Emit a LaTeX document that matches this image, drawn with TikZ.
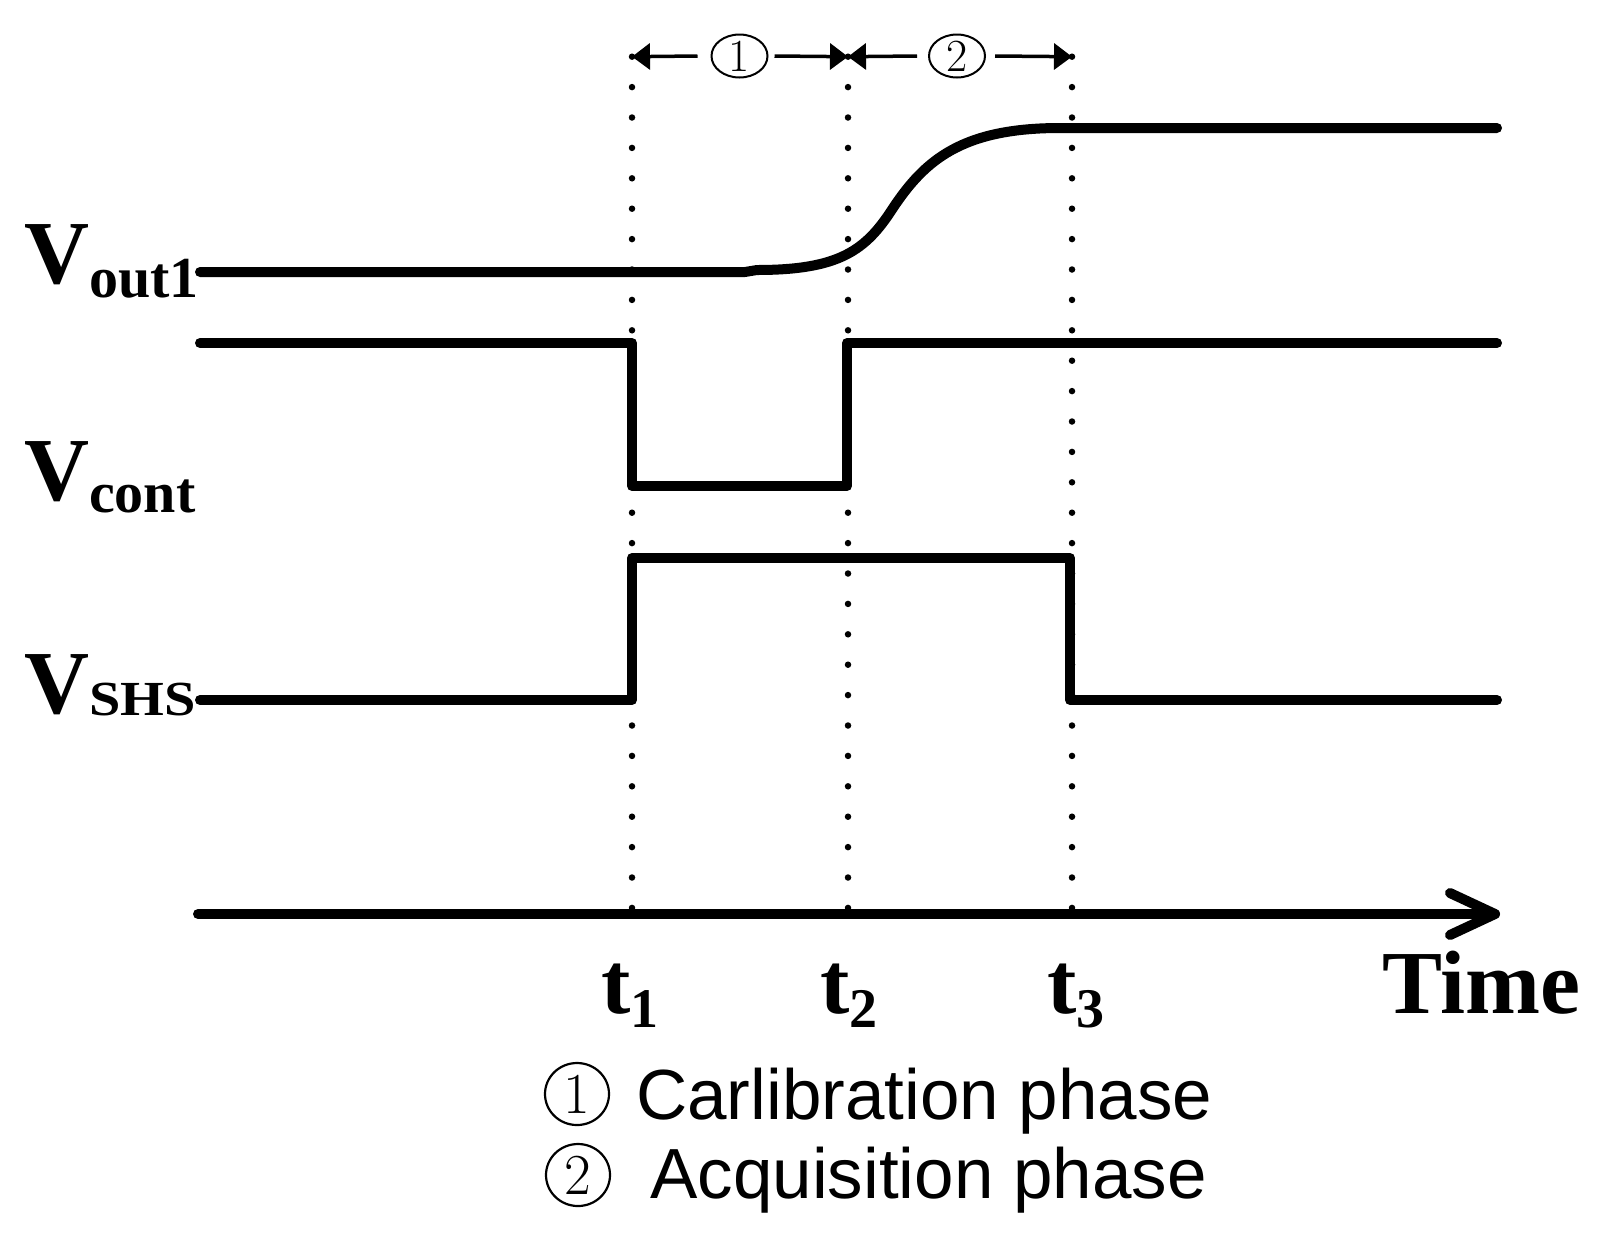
\documentclass[tikz,border=0pt]{standalone}
\usepackage{fontspec}
\usepackage{graphicx}
\setmainfont{Liberation Serif}
\newfontfamily\sansf{Liberation Sans}
\newfontfamily\lmf{Latin Modern Roman}
\usetikzlibrary{arrows.meta,shapes.geometric}
\newcommand\mysub[3][-13pt]{\raisebox{#1}{\fontsize{#2}{#2}\selectfont #3}}
\begin{document}
\begin{tikzpicture}[x=1pt,y=-1pt,
  sig/.style={line width=10pt,line join=round,line cap=round},
  dotline/.style={line width=6.5pt,line cap=round,dash pattern=on 0pt off 30.4pt},
  bigtxt/.style={inner sep=0pt,anchor=base west,font=\bfseries\fontsize{90}{90}\selectfont},
  tlab/.style={inner sep=0pt,anchor=base,font=\bfseries\fontsize{88}{88}\selectfont},
  toparrow/.style={line width=3.5pt,-{Triangle[length=18pt,width=26pt]}},
  topcirc/.style={ellipse,draw,line width=2pt,minimum width=56pt,minimum height=43pt,inner sep=0pt,font=\lmf\fontsize{46}{46}\selectfont},
  legcirc/.style={ellipse,draw,line width=2.2pt,minimum width=64pt,minimum height=62pt,inner sep=0pt,font=\lmf\fontsize{58}{58}\selectfont},
  legtxt/.style={inner sep=0pt,anchor=base west,font=\sansf\fontsize{71}{71}\selectfont}]
\useasboundingbox (0,0) rectangle (1605,1235);
% time references
\coordinate (t1top) at (632,56.7);
\coordinate (t2top) at (848,56.7);
\coordinate (t3top) at (1072,56.7);
\coordinate (t1bot) at (632,914);
\coordinate (t2bot) at (848,914);
\coordinate (t3bot) at (1072,914);
\draw[dotline] (t1top) -- (t1bot);
\draw[dotline] (t2top) -- (t2bot);
\draw[dotline] (t3top) -- (t3bot);
% phase arrows
\node[topcirc] (c1) at (739.5,56) {1};
\node[topcirc] (c2) at (957,56) {2};
\draw[toparrow] ([xshift=-13pt]c1.west) -- (t1top);
\draw[toparrow] ([xshift=6pt]c1.east) -- (t2top);
\draw[toparrow] ([xshift=-11pt]c2.west) -- (t2top);
\draw[toparrow] ([xshift=9pt]c2.east) -- (t3top);
% signals
\draw[sig] (200,272) -- (745,272) -- (757,270)
  .. controls (840,270) and (866,250) .. (893,208)
  .. controls (925,160) and (962,128) .. (1060,128) -- (1497,128);
\draw[sig] (200,343) -- (632,343) -- (632,486) -- (847,486) -- (847,343) -- (1497,343);
\draw[sig] (200,700) -- (632,700) -- (632,558) -- (1070,558) -- (1070,700) -- (1497,700);
% time axis
\coordinate (ax0) at (198,914);
\coordinate (ax1) at (1495,914);
\draw[sig] (ax0) -- (ax1);
\draw[sig] (1450,893) -- (ax1) -- (1450,935);
% labels
\node[bigtxt] (lvout) at (24,283) {V\mysub[-14pt]{58}{out1}};
\node[bigtxt] (lvcont) at (24,500) {V\mysub[-12pt]{58}{cont}};
\node[bigtxt] (lvshs) at (24,713) {V\raisebox{-2pt}{\scalebox{1.15}[1]{\fontsize{49}{49}\selectfont SHS}}};
\node[tlab] (lt1) at (630,1013) {t\mysub[-14pt]{56}{1}};
\node[tlab] (lt2) at (849,1013) {t\mysub[-14pt]{56}{2}};
\node[tlab] (lt3) at (1076,1013) {t\mysub[-14pt]{56}{3}};
\node[bigtxt] (ltime) at (1382,1013) {Time};
% legend
\node[legcirc] (l1) at (577,1094) {1};
\node[legtxt] (l1t) at (636,1119) {Carlibration phase};
\node[legcirc] (l2) at (578,1175) {2};
\node[legtxt] (l2t) at (650,1198) {Acquisition phase};
\end{tikzpicture}
\end{document}
